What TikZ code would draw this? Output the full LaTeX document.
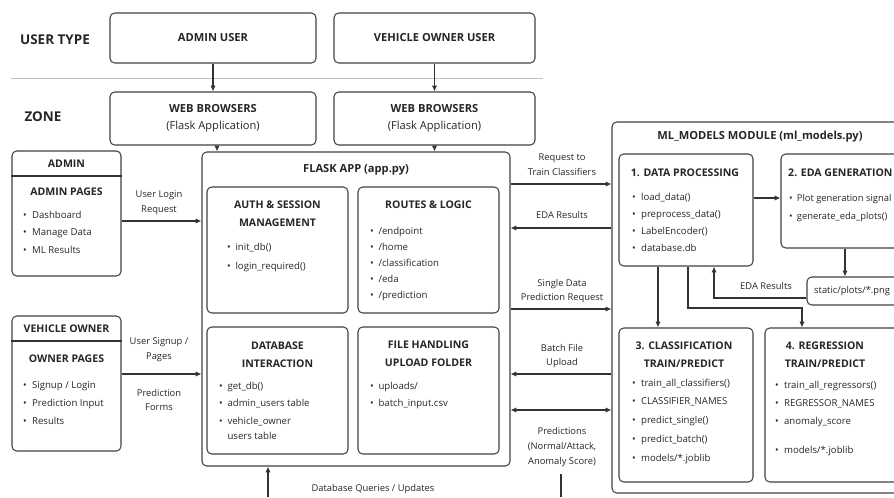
\documentclass[tikz,border=0pt]{standalone}
\usepackage{fontspec}
\setmainfont{Open Sans}
\usetikzlibrary{arrows.meta}
\begin{document}
\begin{tikzpicture}[x=0.03cm, y=-0.03cm,
  every node/.style={text=black!85},
  boxStyle/.style={rectangle, draw=black!75, line width=0.9pt, rounded corners=4pt, inner sep=0},
  sizeStyle/.style 2 args={minimum width=#1*0.03cm, minimum height=#2*0.03cm},
  headStyle/.style={font=\bfseries\fontsize{11.5}{14}\selectfont, inner sep=0},
  nameStyle/.style={font=\bfseries\fontsize{9.5}{12}\selectfont, align=center},
  titleStyle/.style={font=\bfseries\fontsize{9}{15}\selectfont, align=center, inner sep=0},
  itemStyle/.style={anchor=base west, font=\fontsize{8.2}{10}\selectfont, inner sep=0},
  labelStyle/.style={font=\fontsize{8}{12.5}\selectfont, align=center, inner sep=0},
  arrowStyle/.style={-{Latex[length=5pt,width=4.5pt]}, line width=0.9pt, draw=black!80},
  lineStyle/.style={line width=0.9pt, draw=black!80}]
\clip (0, 0) rectangle (894, 497);
\useasboundingbox (0, 0) rectangle (894, 497);

% user type / zone
\node[headStyle] (userType) at (55, 40) {USER TYPE};
\node[headStyle] (zone)     at (43, 117) {ZONE};
\node[boxStyle, sizeStyle={206}{50}, nameStyle] (adminUser) at (213, 38)   {ADMIN USER};
\node[boxStyle, sizeStyle={201}{50}, nameStyle] (ownerUser) at (434.5, 38) {VEHICLE OWNER USER};
\draw[black!25, line width=0.8pt] (11, 78) -- (543, 78);
\node[boxStyle, sizeStyle={206}{53}, nameStyle, font=\fontsize{9.5}{15}\selectfont] (webAdmin) at (213, 118.5)   {\textbf{WEB BROWSERS}\\(Flask Application)};
\node[boxStyle, sizeStyle={201}{53}, nameStyle, font=\fontsize{9.5}{15}\selectfont] (webOwner) at (434.5, 118.5) {\textbf{WEB BROWSERS}\\(Flask Application)};

% flask app
\node[boxStyle, sizeStyle={308}{314}] (flask)  at (356, 309) {};
\node[titleStyle, font=\bfseries\fontsize{9.5}{12}\selectfont] (flaskTitle) at (356, 170) {FLASK APP (app.py)};
\node[boxStyle, sizeStyle={141}{126}] (auth)   at (277.5, 250)   {};
\node[boxStyle, sizeStyle={141}{126}] (routes) at (428.5, 250)   {};
\node[boxStyle, sizeStyle={141}{127}] (dbBox)  at (277.5, 390.5) {};
\node[boxStyle, sizeStyle={141}{127}] (files)  at (428.5, 390.5) {};
\node[titleStyle] (authTitle)   at (277.5, 213.5) {AUTH \& SESSION\\MANAGEMENT};
\node[titleStyle] (routesTitle) at (428.5, 205)   {ROUTES \& LOGIC};
\node[titleStyle] (dbTitle)     at (277.5, 354.5) {DATABASE\\INTERACTION};
\node[titleStyle] (filesTitle)  at (428.5, 354)   {FILE HANDLING\\UPLOAD FOLDER};
\foreach \t [count=\i from 0] in {init\_db(), login\_required()}
  \node[itemStyle] (auth_\i) at (227, 250+\i*19) {\textbullet\hspace{4pt}\t};
\foreach \t [count=\i from 0] in {/endpoint, /home, /classification, /eda, /prediction}
  \node[itemStyle] (routes_\i) at (370, 234+\i*16) {\textbullet\hspace{4pt}\t};
\foreach \t [count=\i from 0] in {get\_db(), admin\_users table, vehicle\_owner}
  \node[itemStyle] (db_\i) at (219, 389+\i*17.5) {\textbullet\hspace{4pt}\t};
\node[itemStyle] (db_3) at (219, 439) {\phantom{\textbullet}\hspace{4pt}users table};
\foreach \t [count=\i from 0] in {uploads/, batch\_input.csv}
  \node[itemStyle] (files_\i) at (370, 389+\i*17) {\textbullet\hspace{4pt}\t};

% admin pages
\node[boxStyle, sizeStyle={109}{125}] (admin) at (66.5, 213.5) {};
\draw[lineStyle] (admin.west |- 0,176) -- (admin.east |- 0,176);
\node[titleStyle] (adminHead)  at (66.5, 164) {ADMIN};
\node[titleStyle] (adminPages) at (66.5, 192) {ADMIN PAGES};
\foreach \t [count=\i from 0] in {Dashboard, Manage Data, ML Results}
  \node[itemStyle] (admin_\i) at (23, 218+\i*17.5) {\textbullet\hspace{4.5pt}\t};

% owner pages
\node[boxStyle, sizeStyle={109}{135}] (owner) at (66.5, 383.5) {};
\draw[lineStyle] (owner.west |- 0,341) -- (owner.east |- 0,341);
\node[titleStyle] (ownerHead)  at (66.5, 329) {VEHICLE OWNER};
\node[titleStyle] (ownerPages) at (66.5, 359) {OWNER PAGES};
\foreach \t [count=\i from 0] in {Signup / Login, Prediction Input, Results}
  \node[itemStyle] (owner_\i) at (23, 388+\i*18) {\textbullet\hspace{4.5pt}\t};

% ml models module
\node[boxStyle, sizeStyle={293}{371}] (ml) at (758.5, 307.5) {};
\node[titleStyle, font=\bfseries\fontsize{9.5}{12}\selectfont] (mlTitle) at (760, 137) {ML\_MODELS MODULE (ml\_models.py)};
\node[boxStyle, sizeStyle={134}{112}] (dataProc) at (686, 210) {};
\node[boxStyle, sizeStyle={124}{94}]  (edaGen)   at (843, 201) {};
\node[boxStyle, sizeStyle={98}{28}]   (plots)    at (856, 291) {};
\node[boxStyle, sizeStyle={134}{154}] (classif)  at (686, 405) {};
\node[boxStyle, sizeStyle={134}{154}] (regress)  at (832, 405) {};
\node[titleStyle] (dataTitle)    at (685, 173)   {1. DATA PROCESSING};
\node[titleStyle, anchor=west] (edaTitle) at (788, 173) {2. EDA GENERATION};
\node[itemStyle, anchor=west, font=\fontsize{8}{10}\selectfont] (plotsText) at (814, 291) {static/plots/*.png};
\node[titleStyle] (classifTitle) at (684, 354.5) {3. CLASSIFICATION\\TRAIN/PREDICT};
\node[titleStyle] (regressTitle) at (825, 354.5) {4. REGRESSION\\TRAIN/PREDICT};
\foreach \t [count=\i from 0] in {load\_data(), preprocess\_data(), LabelEncoder(), database.db}
  \node[itemStyle] (data_\i) at (632, 200+\i*17.3) {\textbullet\hspace{4.5pt}\t};
\foreach \t [count=\i from 0] in {Plot generation signal, generate\_eda\_plots()}
  \node[itemStyle, font=\fontsize{8}{10}\selectfont] (eda_\i) at (789, 201+\i*18) {\textbullet\hspace{3.5pt}\t};
\foreach \t [count=\i from 0] in {train\_all\_classifiers(), CLASSIFIER\_NAMES, predict\_single(), predict\_batch(), {models/*.joblib}}
  \node[itemStyle] (classif_\i) at (632, 386+\i*18.75) {\textbullet\hspace{4.5pt}\t};
\foreach \t/\y [count=\i from 0] in {{train\_all\_regressors()}/388, {REGRESSOR\_NAMES}/406, {anomaly\_score}/424, {models/*.joblib}/453}
  \node[itemStyle] (regress_\i) at (775, \y) {\textbullet\hspace{4.5pt}\t};

% connectors
\draw[arrowStyle] (adminUser) -- (webAdmin);
\draw[arrowStyle] (ownerUser) -- (webOwner);
\draw[arrowStyle] ([xshift=0.12cm]webAdmin.south) -- ([xshift=0.12cm]webAdmin.south |- flask.north);
\draw[arrowStyle] (webOwner.south) -- (webOwner.south |- flask.north);
\draw[arrowStyle] (admin.east |- 0,221) -- (flask.west |- 0,221);
\draw[arrowStyle] (owner.east |- 0,374) -- (flask.west |- 0,374);
\draw[arrowStyle] (flask.east |- 0,184) -- (ml.west |- 0,184);
\draw[arrowStyle] (ml.west |- 0,228) -- (flask.east |- 0,228);
\draw[arrowStyle] (flask.east |- 0,309) -- (ml.west |- 0,309);
\draw[arrowStyle] (ml.west |- 0,374) -- (flask.east |- 0,374);
\draw[arrowStyle, {Latex[length=5pt,width=4.5pt]}-{Latex[length=5pt,width=4.5pt]}] (flask.east |- 0,410) -- (ml.west |- 0,410);
\coordinate (dbEnd)   at (268, 497);
\coordinate (predTop) at (561, 474);
\coordinate (predEnd) at (561, 497);
\draw[arrowStyle] (dbEnd) -- (dbEnd |- flask.south);
\draw[lineStyle] (predTop) -- (predEnd);
\draw[arrowStyle] (dataProc.east |- 0,198) -- (edaGen.west |- 0,198);
\draw[arrowStyle] ([xshift=0.06cm]edaGen.south) -- ([xshift=0.06cm]edaGen.south |- plots.north);
\draw[arrowStyle] (plots.west |- 0,298) -| ([xshift=0.84cm]dataProc.south);
\draw[arrowStyle] ([xshift=-0.84cm]dataProc.south) -- ([xshift=-0.84cm]classif.north);
\coordinate (regBend) at (802, 308);
\draw[arrowStyle] ([xshift=0.06cm]dataProc.south) |- (regBend) -- (regBend |- regress.north);

% connector labels
\node[labelStyle] (loginLabel)  at (159, 203) {User Login\\Request};
\node[labelStyle] (signupLabel) at (159, 350) {User Signup /\\Pages};
\node[labelStyle] (formsLabel)  at (159, 400) {Prediction\\Forms};
\node[labelStyle] (trainLabel)  at (562, 165) {Request to\\Train Classifiers};
\node[labelStyle] (edaLabel)    at (562, 215) {EDA Results};
\node[labelStyle] (singleLabel) at (562, 291) {Single Data\\Prediction Request};
\node[labelStyle] (batchLabel)  at (562, 356) {Batch File\\Upload};
\node[labelStyle] (predLabel)   at (562, 447) {Predictions\\(Normal/Attack,\\Anomaly Score)};
\node[labelStyle] (dbLabel)     at (373, 489) {Database Queries / Updates};
\node[labelStyle] (plotsLabel)  at (766, 286) {EDA Results};
\end{tikzpicture}
\end{document}
